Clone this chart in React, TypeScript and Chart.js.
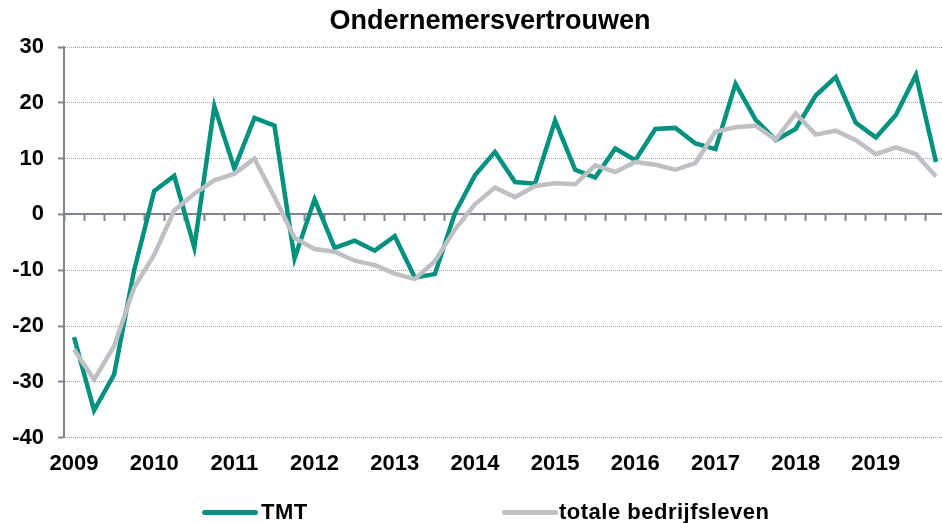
import React, { useEffect, useRef } from "react";
import { Chart, registerables } from "chart.js";

Chart.register(...registerables);

const years = ["2009", "2010", "2011", "2012", "2013", "2014", "2015", "2016", "2017", "2018", "2019"];
const quarters = ["K1", "K2", "K3", "K4"];
const categories: string[] = years.flatMap((y) => quarters.map((q) => `${y} ${q}`));

const tmt = [
  -22.0, -35.1, -28.7, -10.0, 4.2, 6.9, -5.9, 19.4, 8.2, 17.3, 15.9, -7.9,
  2.7, -6.0, -4.7, -6.5, -3.9, -11.3, -10.7, 0.2, 7.0, 11.2, 5.8, 5.5,
  16.8, 8.0, 6.6, 11.8, 9.7, 15.3, 15.5, 12.7, 11.7, 23.4, 17.0, 13.3,
  15.3, 21.3, 24.6, 16.4, 13.8, 17.8, 25.0, 9.4,
];

const totaal = [
  -24.2, -29.6, -23.6, -13.1, -7.2, 0.7, 3.7, 6.1, 7.3, 10.0, 3.1, -4.2,
  -6.2, -6.7, -8.3, -9.1, -10.6, -11.6, -8.4, -2.7, 1.8, 4.8, 3.1, 5.1,
  5.6, 5.4, 8.8, 7.6, 9.4, 8.9, 8.0, 9.2, 14.8, 15.6, 15.9, 13.4,
  18.1, 14.3, 15.0, 13.3, 10.8, 12.0, 10.8, 6.8,
];

const chartTitle = "Ondernemersvertrouwen";
const seriesNames = ["TMT", "totale bedrijfsleven"];
const seriesColors = ["#00927f", "#bfc0c4"];
const yTicks = [-40, -30, -20, -10, 0, 10, 20, 30];

const FONT = "'Liberation Sans', Arial, sans-serif";
const AXIS = "#7f868e";

// legend item offsets (line start, text start) relative to the canvas centre
const legendLineOffsets = [-288, 12];
const legendTextOffsets = [-229, 69];

const titleLegendPlugin = {
  id: "titleLegend",
  afterDraw(chart: any) {
    const ctx = chart.ctx;
    const ds = chart.data.datasets;
    const cx = chart.width / 2;
    ctx.save();
    // title
    ctx.fillStyle = "#000";
    ctx.font = `bold 27px ${FONT}`;
    ctx.textAlign = "center";
    ctx.textBaseline = "alphabetic";
    ctx.fillText(chartTitle, cx, 29);
    // legend
    const y = chart.height - 10.5;
    const lineW = 56;
    ctx.font = `bold 22px ${FONT}`;
    try {
      (ctx as any).letterSpacing = "0.5px";
    } catch (e) {}
    ds.forEach((d: any, i: number) => {
      const x = cx + legendLineOffsets[i];
      ctx.strokeStyle = d.borderColor;
      ctx.lineWidth = 5;
      ctx.lineCap = "round";
      ctx.beginPath();
      ctx.moveTo(x + 2.5, y);
      ctx.lineTo(x + lineW - 2.5, y);
      ctx.stroke();
      ctx.fillStyle = "#000";
      ctx.textBaseline = "middle";
      ctx.textAlign = "left";
      ctx.fillText(d.label, cx + legendTextOffsets[i], y);
    });
    ctx.restore();
  },
};

export default function App() {
  const ref = useRef<HTMLCanvasElement | null>(null);

  useEffect(() => {
    document.body.style.margin = "0";
    const canvas = ref.current;
    if (!canvas) return;
    const chart = new Chart(canvas, {
      type: "line",
      data: {
        labels: categories,
        datasets: [
          {
            label: seriesNames[0],
            data: tmt,
            borderColor: seriesColors[0],
            backgroundColor: seriesColors[0],
            borderWidth: 4.5,
            pointRadius: 0,
            tension: 0,
            order: 1,
          },
          {
            label: seriesNames[1],
            data: totaal,
            borderColor: seriesColors[1],
            backgroundColor: seriesColors[1],
            borderWidth: 4.5,
            pointRadius: 0,
            tension: 0,
            order: 0,
          },
        ],
      },
      options: {
        responsive: false,
        animation: false,
        layout: { padding: { left: 12, right: 34, top: 47, bottom: 33 } },
        plugins: {
          legend: { display: false },
          tooltip: { enabled: false },
          title: { display: false },
        },
        scales: {
          x: {
            type: "category",
            offset: true,
            grid: { display: false, drawTicks: false },
            border: { display: false },
            ticks: {
              autoSkip: false,
              maxRotation: 0,
              padding: 13,
              color: "#000",
              font: { family: FONT, size: 22, weight: "bold" },
              callback: (_v: any, i: number) => (i % 4 === 0 ? years[i / 4] : ""),
            },
          },
          x2: {
            type: "category",
            position: { y: 0 },
            offset: true,
            grid: {
              display: true,
              offset: true,
              drawOnChartArea: false,
              drawTicks: true,
              tickLength: 6,
              tickColor: AXIS,
              tickWidth: 2,
            },
            border: { display: true, color: AXIS, width: 2 },
            ticks: { display: false, autoSkip: false },
          },
          y: {
            min: -40,
            max: 30,
            afterBuildTicks: (scale: any) => {
              scale.ticks = yTicks.map((v) => ({ value: v }));
            },
            afterFit: (scale: any) => {
              scale.width = 52;
            },
            grid: {
              color: (c: any) => (c.tick && c.tick.value === 0 ? "rgba(0,0,0,0)" : "#a3a3a3"),
              lineWidth: 1,
              drawTicks: true,
              tickLength: 6,
              tickColor: AXIS,
              tickWidth: 2,
              tickBorderDash: [],
            },
            border: { display: true, color: AXIS, width: 2, dash: [1, 1] },
            ticks: {
              padding: 14,
              color: "#000",
              font: { family: FONT, size: 22, weight: "bold" },
            },
          },
        },
      },
      plugins: [titleLegendPlugin],
    });
    return () => chart.destroy();
  }, []);

  return (
    <div style={{ position: "absolute", left: 0, top: 0, width: 942, height: 523, overflow: "hidden", background: "#fff" }}>
      <canvas ref={ref} width={980} height={523} style={{ display: "block", width: 980, height: 523 }} />
    </div>
  );
}
